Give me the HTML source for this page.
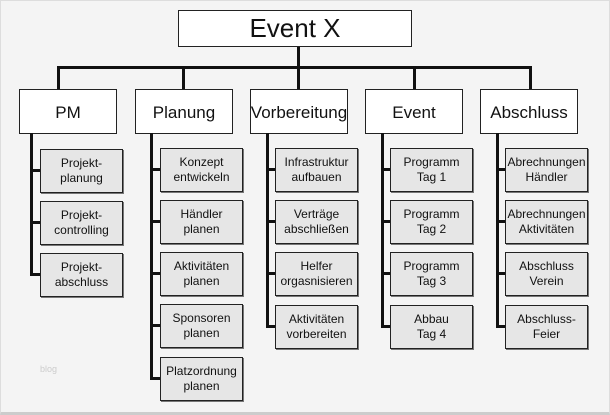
<!DOCTYPE html><html><head><style>
body{margin:0;width:610px;height:415px;background:#f4f4f4;position:relative;overflow:hidden;font-family:"Liberation Sans",sans-serif;color:#111}
.b{position:absolute;border:1.5px solid #222;box-sizing:border-box;display:flex;align-items:center;justify-content:center;text-align:center}
.t{background:#fff;font-size:26px}
.l{background:#fff;font-size:17px;padding-top:2px}
.c{background:#e6e6e6;font-size:12px;line-height:15px;box-shadow:1px 1px 0 #777}
.ln{position:absolute;background:#111}
</style></head><body>
<div style="position:absolute;left:0;top:0;width:608px;height:411px;border:1px solid #ddd;border-bottom:3px solid #ccc"></div>
<div class="ln" style="left:297px;top:46px;width:3px;height:23px"></div>
<div class="ln" style="left:57px;top:66px;width:475px;height:3px"></div>
<div class="b t" style="left:178px;top:10px;width:234px;height:37px">Event X</div>
<div class="ln" style="left:57px;top:66px;width:3px;height:24px"></div>
<div class="ln" style="left:182px;top:66px;width:3px;height:24px"></div>
<div class="ln" style="left:297px;top:66px;width:3px;height:24px"></div>
<div class="ln" style="left:413px;top:66px;width:3px;height:24px"></div>
<div class="ln" style="left:529px;top:66px;width:3px;height:24px"></div>
<div class="b l" style="left:19px;top:89px;width:98px;height:45px">PM</div>
<div class="b l" style="left:135px;top:89px;width:98px;height:45px">Planung</div>
<div class="b l" style="left:250px;top:89px;width:98px;height:45px">Vorbereitung</div>
<div class="b l" style="left:365px;top:89px;width:98px;height:45px">Event</div>
<div class="b l" style="left:480px;top:89px;width:98px;height:45px">Abschluss</div>
<!-- PM -->
<div class="ln" style="left:30px;top:133px;width:3px;height:143px"></div>
<div class="ln" style="left:30px;top:169px;width:11px;height:3px"></div>
<div class="ln" style="left:30px;top:221px;width:11px;height:3px"></div>
<div class="ln" style="left:30px;top:273px;width:11px;height:3px"></div>
<div class="b c" style="left:40px;top:149px;width:83px;height:44px">Projekt-<br>planung</div>
<div class="b c" style="left:40px;top:201px;width:83px;height:44px">Projekt-<br>controlling</div>
<div class="b c" style="left:40px;top:253px;width:83px;height:44px">Projekt-<br>abschluss</div>
<!-- Planung -->
<div class="ln" style="left:150px;top:133px;width:3px;height:247px"></div>
<div class="ln" style="left:150px;top:168px;width:11px;height:3px"></div>
<div class="ln" style="left:150px;top:220px;width:11px;height:3px"></div>
<div class="ln" style="left:150px;top:272px;width:11px;height:3px"></div>
<div class="ln" style="left:150px;top:324px;width:11px;height:3px"></div>
<div class="ln" style="left:150px;top:377px;width:11px;height:3px"></div>
<div class="b c" style="left:160px;top:148px;width:83px;height:44px">Konzept<br>entwickeln</div>
<div class="b c" style="left:160px;top:200px;width:83px;height:44px">Händler<br>planen</div>
<div class="b c" style="left:160px;top:252px;width:83px;height:44px">Aktivitäten<br>planen</div>
<div class="b c" style="left:160px;top:304px;width:83px;height:44px">Sponsoren<br>planen</div>
<div class="b c" style="left:160px;top:357px;width:83px;height:44px">Platzordnung<br>planen</div>
<!-- Vorbereitung -->
<div class="ln" style="left:266px;top:133px;width:3px;height:195px"></div>
<div class="ln" style="left:266px;top:168px;width:11px;height:3px"></div>
<div class="ln" style="left:266px;top:220px;width:11px;height:3px"></div>
<div class="ln" style="left:266px;top:272px;width:11px;height:3px"></div>
<div class="ln" style="left:266px;top:325px;width:11px;height:3px"></div>
<div class="b c" style="left:275px;top:148px;width:83px;height:44px">Infrastruktur<br>aufbauen</div>
<div class="b c" style="left:275px;top:200px;width:83px;height:44px">Verträge<br>abschließen</div>
<div class="b c" style="left:275px;top:252px;width:83px;height:44px">Helfer<br>orgasnisieren</div>
<div class="b c" style="left:275px;top:305px;width:83px;height:44px">Aktivitäten<br>vorbereiten</div>
<!-- Event -->
<div class="ln" style="left:381px;top:133px;width:3px;height:195px"></div>
<div class="ln" style="left:381px;top:168px;width:11px;height:3px"></div>
<div class="ln" style="left:381px;top:220px;width:11px;height:3px"></div>
<div class="ln" style="left:381px;top:272px;width:11px;height:3px"></div>
<div class="ln" style="left:381px;top:325px;width:11px;height:3px"></div>
<div class="b c" style="left:390px;top:148px;width:83px;height:44px">Programm<br>Tag 1</div>
<div class="b c" style="left:390px;top:200px;width:83px;height:44px">Programm<br>Tag 2</div>
<div class="b c" style="left:390px;top:252px;width:83px;height:44px">Programm<br>Tag 3</div>
<div class="b c" style="left:390px;top:305px;width:83px;height:44px">Abbau<br>Tag 4</div>
<!-- Abschluss -->
<div class="ln" style="left:496px;top:133px;width:3px;height:195px"></div>
<div class="ln" style="left:496px;top:168px;width:11px;height:3px"></div>
<div class="ln" style="left:496px;top:220px;width:11px;height:3px"></div>
<div class="ln" style="left:496px;top:272px;width:11px;height:3px"></div>
<div class="ln" style="left:496px;top:325px;width:11px;height:3px"></div>
<div class="b c" style="left:505px;top:148px;width:83px;height:44px">Abrechnungen<br>Händler</div>
<div class="b c" style="left:505px;top:200px;width:83px;height:44px">Abrechnungen<br>Aktivitäten</div>
<div class="b c" style="left:505px;top:252px;width:83px;height:44px">Abschluss<br>Verein</div>
<div class="b c" style="left:505px;top:305px;width:83px;height:44px">Abschluss-<br>Feier</div>
<div style="position:absolute;left:40px;top:364px;font-size:9px;color:#ccc">blog</div>
</body></html>
